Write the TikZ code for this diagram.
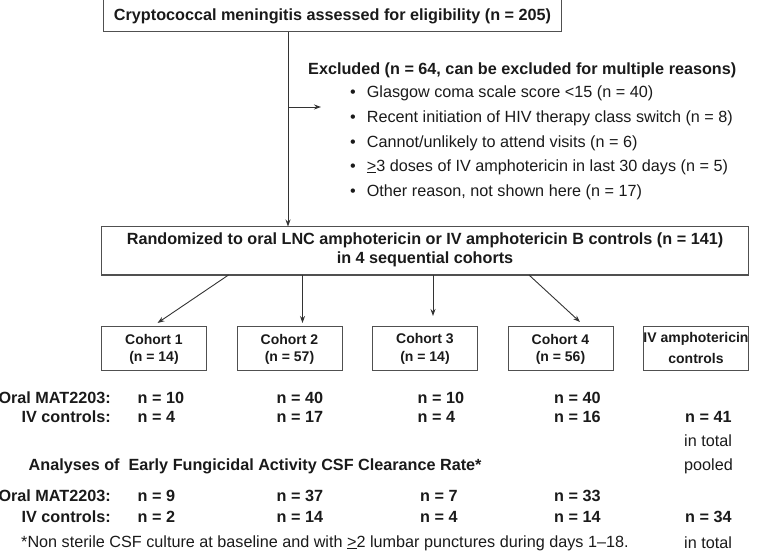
\documentclass[tikz,border=0pt]{standalone}
\usepackage{fontspec}
\setmainfont{Liberation Sans}
\usetikzlibrary{arrows.meta}
\definecolor{lncol}{HTML}{333333}
\definecolor{boxcol}{HTML}{505050}
\definecolor{txtcol}{HTML}{1A1A1A}
\begin{document}
\begin{tikzpicture}[x=1pt,y=-1pt,
  box/.style={draw=boxcol,line width=1pt,inner sep=0pt},
  cbox/.style={box,minimum width=105pt,minimum height=44pt},
  lbl/.style={inner sep=0pt,text=txtcol,font=\fontsize{16.2}{19}\selectfont},
  blbl/.style={inner sep=0pt,text=txtcol,font=\fontsize{16.2}{19}\selectfont\bfseries},
  clbl/.style={inner sep=0pt,text=txtcol,font=\fontsize{14}{17}\selectfont\bfseries},
  arr/.style={draw=lncol,line width=0.9pt,-{Stealth[length=7pt,width=5pt]}},
  ln/.style={draw=lncol,line width=0.9pt}]
\useasboundingbox (0,0) rectangle (782,556);
% top box
\node[box,minimum width=458pt,minimum height=32pt] (top) at (332.5,16) {};
\node[blbl] (toptxt) at (332.5,16) {Cryptococcal meningitis assessed for eligibility (n = 205)};
% excluded
\node[blbl,anchor=west] (exc) at (308,70) {Excluded (n = 64, can be excluded for multiple reasons)};
\node[lbl,anchor=west] (b1) at (350,93) {\textbullet\hspace{11pt}Glasgow coma scale score <15 (n = 40)};
\node[lbl,anchor=west] (b2) at (350,118) {\textbullet\hspace{11pt}Recent initiation of HIV therapy class switch (n = 8)};
\node[lbl,anchor=west] (b3) at (350,143) {\textbullet\hspace{11pt}Cannot/unlikely to attend visits (n = 6)};
\node[lbl,anchor=west] (b4) at (350,167) {\textbullet\hspace{11pt}\underline{>}3 doses of IV amphotericin in last 30 days (n = 5)};
\node[lbl,anchor=west] (b5) at (350,192) {\textbullet\hspace{11pt}Other reason, not shown here (n = 17)};
% randomized box
\node[box,minimum width=647pt,minimum height=48pt] (rand) at (425,251) {};
\node[blbl] (r1) at (425,240) {Randomized to oral LNC amphotericin or IV amphotericin B controls (n = 141)};
\node[blbl] (r2) at (425,259) {in 4 sequential cohorts};
% main flow
\coordinate (split) at (288,107);
\coordinate (exend) at (321,107);
\draw[ln] (top.south -| split) -- (split);
\draw[arr] (split) -- (rand.north -| split);
\draw[arr] (split) -- (exend);
% cohort boxes
\node[cbox] (c1) at (154,348) {};
\node[cbox] (c2) at (289.5,348) {};
\node[cbox] (c3) at (425,348) {};
\node[cbox] (c4) at (560.5,348) {};
\node[cbox] (c5) at (696,348) {};
\node[clbl] (c1a) at (154,339) {Cohort 1}; \node[clbl] (c1b) at (154,358) {(n = 14)};
\node[clbl] (c2a) at (289.5,339) {Cohort 2}; \node[clbl] (c2b) at (289.5,358) {(n = 57)};
\node[clbl] (c3a) at (425,339) {Cohort 3}; \node[clbl] (c3b) at (425,358) {(n = 14)};
\node[clbl] (c4a) at (560.5,339) {Cohort 4}; \node[clbl] (c4b) at (560.5,358) {(n = 56)};
\node[clbl] (c5a) at (696,339) {IV amphotericin}; \node[clbl] (c5b) at (696,358) {controls};
% arrows to cohorts
\coordinate (s1) at (228.5,275); \coordinate (e1) at (157.5,323);
\coordinate (s2) at (302.5,275); \coordinate (e2) at (302.5,323);
\coordinate (s3) at (433,275);   \coordinate (e3) at (433,316);
\coordinate (s4) at (529,275);   \coordinate (e4) at (580,322);
\draw[arr] (s1) -- (e1);
\draw[arr] (s2) -- (e2);
\draw[arr] (s3) -- (e3);
\draw[arr] (s4) -- (e4);
% first table
\node[blbl,anchor=east] (om1) at (111,398) {Oral MAT2203:};
\node[blbl,anchor=east] (iv1) at (111,417) {IV controls:};
\node[blbl,anchor=west] (o11) at (137.5,398) {n = 10};
\node[blbl,anchor=west] (o12) at (276.5,398) {n = 40};
\node[blbl,anchor=west] (o13) at (417.5,398) {n = 10};
\node[blbl,anchor=west] (o14) at (554,398) {n = 40};
\node[blbl,anchor=west] (i11) at (137.5,417) {n = 4};
\node[blbl,anchor=west] (i12) at (276.5,417) {n = 17};
\node[blbl,anchor=west] (i13) at (417.5,417) {n = 4};
\node[blbl,anchor=west] (i14) at (554,417) {n = 16};
\node[blbl,anchor=west] (i15) at (685,417) {n = 41};
\node[lbl,anchor=west] (tot1) at (684,441) {in total};
\node[lbl,anchor=west] (pool) at (684,466) {pooled};
% analyses
\node[blbl,anchor=west] (an) at (28.5,466) {Analyses of\ \ Early Fungicidal Activity CSF Clearance Rate*};
\node[blbl,anchor=east] (om2) at (111,496) {Oral MAT2203:};
\node[blbl,anchor=east] (iv2) at (111,517) {IV controls:};
\node[blbl,anchor=west] (o21) at (137.5,496) {n = 9};
\node[blbl,anchor=west] (o22) at (276.5,496) {n = 37};
\node[blbl,anchor=west] (o23) at (420,496) {n = 7};
\node[blbl,anchor=west] (o24) at (554,496) {n = 33};
\node[blbl,anchor=west] (i21) at (137.5,517) {n = 2};
\node[blbl,anchor=west] (i22) at (276.5,517) {n = 14};
\node[blbl,anchor=west] (i23) at (420,517) {n = 4};
\node[blbl,anchor=west] (i24) at (554,517) {n = 14};
\node[blbl,anchor=west] (i25) at (685,517) {n = 34};
\node[lbl,anchor=west] (tot2) at (684,543) {in total};
\node[lbl,anchor=west] (foot) at (21,543) {*Non sterile CSF culture at baseline and with \underline{>}2 lumbar punctures during days 1--18.};
\end{tikzpicture}
\end{document}
